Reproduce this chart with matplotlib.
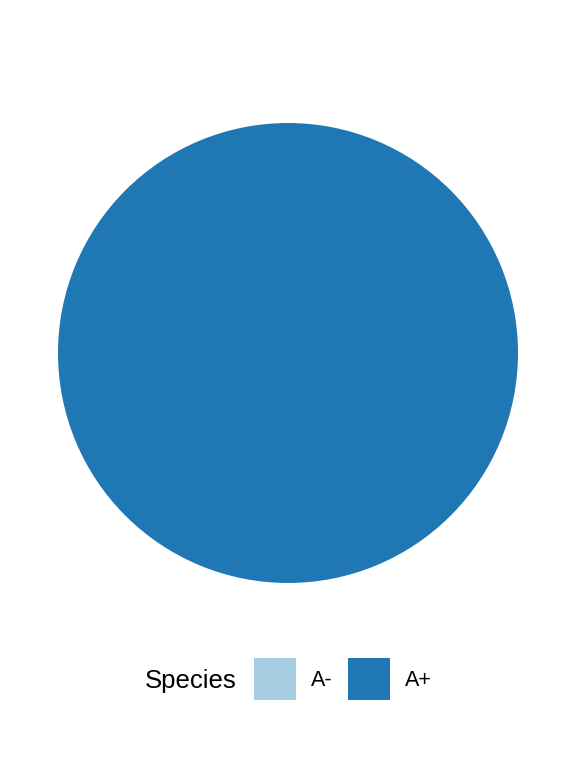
import matplotlib
matplotlib.use("Agg")
import matplotlib.pyplot as plt
from matplotlib.patches import Rectangle

plt.rcParams['font.family'] = ['Liberation Sans', 'DejaVu Sans']

species = ['A-', 'A+']
values = [0, 100]
colors = ['#a6cee3', '#1f78b4']
legend_title = 'Species'

W, H = 576, 768
fig = plt.figure(figsize=(W / 100, H / 100), dpi=100)
ax = fig.add_axes([58 / W, (H - 583) / H, 460 / W, 460 / H])
ax.pie(values, colors=colors, radius=1, startangle=90, counterclock=False,
       wedgeprops=dict(linewidth=0))
ax.set_xlim(-1, 1)
ax.set_ylim(-1, 1)
ax.set_aspect('equal')
ax.axis('off')

# legend (horizontal, title at left)
yc = (H - 681) / H
fig.text(145 / W, yc, legend_title, fontsize=18.5, va='center', ha='left')
box_x = [254, 348]
for x0, lab, col in zip(box_x, species, colors):
    fig.patches.append(Rectangle((x0 / W, (H - 700) / H), 42 / W, 42 / H,
                                 transform=fig.transFigure, facecolor=col,
                                 edgecolor='none'))
    fig.text((x0 + 57) / W, yc, lab, fontsize=15.5, va='center', ha='left')

fig.savefig('out.png', dpi=100)
